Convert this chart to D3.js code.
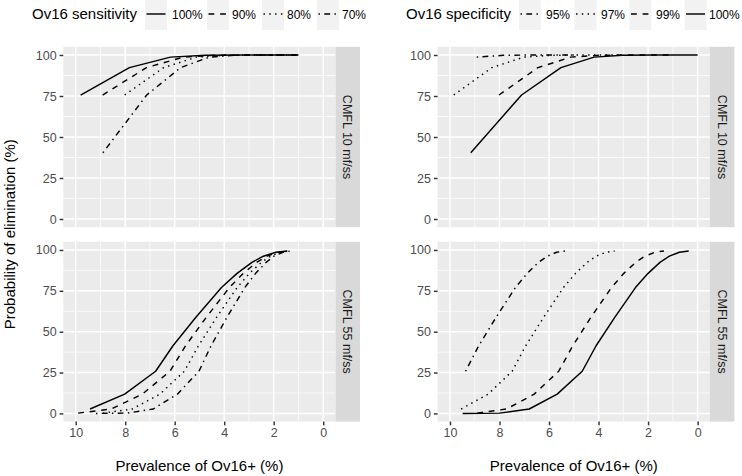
<!DOCTYPE html>
<html>
<head>
<meta charset="utf-8">
<script src="https://cdn.jsdelivr.net/npm/d3@7"></script>
<style>
  html, body { margin: 0; padding: 0; background: #ffffff; }
  svg { display: block; font-family: "Liberation Sans", Arial, Helvetica, sans-serif; }
</style>
</head>
<body>
<svg id="chart" width="742" height="476"></svg>
<script>
// ---------------- DATA ----------------
const sensLevels = ["100%", "90%", "80%", "70%"];
const specLevels = ["95%", "97%", "99%", "100%"];
const stripLabels = ["CMFL 10 mf/ss", "CMFL 55 mf/ss"];
const xTicks = [10, 8, 6, 4, 2, 0];
const yTicks = [0, 25, 50, 75, 100];

// Probability of elimination (%) — shared by each line in a row
const probTop = [40.4, 75.6, 92.3, 98.7, 99.8, 100, 100];
const probBottom = [0.0, 0.2, 2.7, 11.8, 25.8, 41.4, 58.5, 77.0, 85.7, 92.4, 96.2, 98.6, 99.4];

// Prevalence of Ov16+ (%) — null = outside the plotted range
// Top-left: sensitivity, CMFL 10
const sensTop100 = [null, 9.80, 7.83, 6.17, 4.76, 3.18, 1.00];
const sensTop90  = [null, 8.91, 7.14, 5.65, 4.38, 2.96, 1.00];
const sensTop80  = [null, 8.02, 6.45, 5.12, 4.00, 2.74, 1.00];
const sensTop70  = [8.90, 7.13, 5.76, 4.60, 3.62, 2.52, 1.00];
// Top-right: specificity, CMFL 10
const specTop95  = [null, null, null, 8.92, 7.85, 6.65, 5.00];
const specTop97  = [null, 9.85, 8.31, 7.02, 5.93, 4.69, 3.00];
const specTop99  = [null, 8.02, 6.45, 5.12, 4.00, 2.74, 1.00];
const specTop100 = [9.16, 7.11, 5.52, 4.18, 3.04, 1.76, 0.00];
// Bottom-left: sensitivity, CMFL 55
const sensBot100 = [null, null, 9.42, 8.02, 6.77, 6.07, 5.16, 4.11, 3.48, 2.88, 2.42, 1.91, 1.45];
const sensBot90  = [null, 9.90, 8.57, 7.31, 6.19, 5.56, 4.74, 3.79, 3.23, 2.69, 2.27, 1.82, 1.40];
const sensBot80  = [null, 8.90, 7.72, 6.60, 5.61, 5.04, 4.32, 3.48, 2.98, 2.50, 2.13, 1.73, 1.36];
const sensBot70  = [9.18, 7.90, 6.87, 5.89, 5.02, 4.53, 3.90, 3.17, 2.73, 2.31, 1.99, 1.63, 1.31];
// Bottom-right: specificity, CMFL 55
const specBot95  = [null, null, null, null, 9.37, 8.84, 8.15, 7.36, 6.88, 6.43, 6.07, 5.69, 5.34];
const specBot97  = [null, null, 9.55, 8.46, 7.49, 6.94, 6.23, 5.42, 4.93, 4.46, 4.10, 3.71, 3.35];
const specBot99  = [null, 8.90, 7.72, 6.60, 5.61, 5.04, 4.32, 3.48, 2.98, 2.50, 2.13, 1.73, 1.36];
const specBot100 = [9.49, 8.00, 6.80, 5.67, 4.66, 4.10, 3.36, 2.51, 2.00, 1.52, 1.14, 0.74, 0.36];

// ---------------- STYLE / LAYOUT ----------------
const LW = 1.45;
const dashes = {
  solid: null,
  dashed: `${4*LW},${4*LW}`,
  dotted: `${LW},${3*LW}`,
  dotdash: `${LW},${3*LW},${4*LW},${3*LW}`
};
const sensType = { "100%": "solid", "90%": "dashed", "80%": "dotted", "70%": "dotdash" };
const specType = { "95%": "dotdash", "97%": "dotted", "99%": "dashed", "100%": "solid" };

const colLeft = { x0: 63.3, x1: 335.6 };
const colRight = { x0: 437.6, x1: 710.0 };
const rowTop = { y0: 46.8, y1: 227.2 };
const rowBot = { y0: 241.8, y1: 421.6 };
const stripW = 24.4;

const svg = d3.select("#chart");
svg.append("rect").attr("width", 742).attr("height", 476).attr("fill", "#ffffff");

const panels = [
  { col: colLeft, row: rowTop, strip: stripLabels[0], probs: probTop, levels: sensLevels, types: sensType,
    series: { "100%": sensTop100, "90%": sensTop90, "80%": sensTop80, "70%": sensTop70 }, xaxis: false },
  { col: colRight, row: rowTop, strip: stripLabels[0], probs: probTop, levels: specLevels, types: specType,
    series: { "95%": specTop95, "97%": specTop97, "99%": specTop99, "100%": specTop100 }, xaxis: false },
  { col: colLeft, row: rowBot, strip: stripLabels[1], probs: probBottom, levels: sensLevels, types: sensType,
    series: { "100%": sensBot100, "90%": sensBot90, "80%": sensBot80, "70%": sensBot70 }, xaxis: true },
  { col: colRight, row: rowBot, strip: stripLabels[1], probs: probBottom, levels: specLevels, types: specType,
    series: { "95%": specBot95, "97%": specBot97, "99%": specBot99, "100%": specBot100 }, xaxis: true }
];

panels.forEach(p => {
  const x = d3.scaleLinear().domain([10.5, -0.5]).range([p.col.x0, p.col.x1]);
  const y = d3.scaleLinear().domain([-5, 105]).range([p.row.y1, p.row.y0]);
  const g = svg.append("g");

  // background
  g.append("rect").attr("x", p.col.x0).attr("y", p.row.y0)
    .attr("width", p.col.x1 - p.col.x0).attr("height", p.row.y1 - p.row.y0)
    .attr("fill", "#ebebeb");

  // minor grid
  [9, 7, 5, 3, 1].forEach(v => {
    g.append("line").attr("x1", x(v)).attr("x2", x(v)).attr("y1", p.row.y0).attr("y2", p.row.y1)
      .attr("stroke", "#ffffff").attr("stroke-width", LW / 2);
  });
  [12.5, 37.5, 62.5, 87.5].forEach(v => {
    g.append("line").attr("x1", p.col.x0).attr("x2", p.col.x1).attr("y1", y(v)).attr("y2", y(v))
      .attr("stroke", "#ffffff").attr("stroke-width", LW / 2);
  });
  // major grid
  xTicks.forEach(v => {
    g.append("line").attr("x1", x(v)).attr("x2", x(v)).attr("y1", p.row.y0).attr("y2", p.row.y1)
      .attr("stroke", "#ffffff").attr("stroke-width", LW);
  });
  yTicks.forEach(v => {
    g.append("line").attr("x1", p.col.x0).attr("x2", p.col.x1).attr("y1", y(v)).attr("y2", y(v))
      .attr("stroke", "#ffffff").attr("stroke-width", LW);
  });

  // y axis
  const ya = g.append("g").attr("transform", `translate(${p.col.x0},0)`)
    .call(d3.axisLeft(y).tickValues(yTicks).tickSize(3.7).tickPadding(3));
  ya.select(".domain").remove();
  ya.selectAll(".tick line").attr("stroke", "#333333").attr("stroke-width", LW);
  ya.selectAll(".tick text").attr("fill", "#4d4d4d").attr("font-size", "12.5px")
    .attr("font-family", "'Liberation Sans', Arial, sans-serif");

  // x axis
  if (p.xaxis) {
    const xa = g.append("g").attr("transform", `translate(0,${p.row.y1})`)
      .call(d3.axisBottom(x).tickValues(xTicks).tickSize(3.7).tickPadding(3).tickFormat(d3.format("d")));
    xa.select(".domain").remove();
    xa.selectAll(".tick line").attr("stroke", "#333333").attr("stroke-width", LW);
    xa.selectAll(".tick text").attr("fill", "#4d4d4d").attr("font-size", "12.5px")
      .attr("font-family", "'Liberation Sans', Arial, sans-serif");
  }

  // lines
  const line = d3.line()
    .defined(d => d.x !== null)
    .x(d => x(d.x)).y(d => y(d.y));
  p.levels.forEach(lv => {
    const pts = p.series[lv].map((v, i) => ({ x: v, y: p.probs[i] }));
    const path = g.append("path").datum(pts).attr("d", line)
      .attr("fill", "none").attr("stroke", "#000000").attr("stroke-width", LW)
      .attr("stroke-linejoin", "round");
    const da = dashes[p.types[lv]];
    if (da) path.attr("stroke-dasharray", da);
  });

  // strip
  const sx = p.col.x1;
  g.append("rect").attr("x", sx).attr("y", p.row.y0).attr("width", stripW)
    .attr("height", p.row.y1 - p.row.y0).attr("fill", "#d9d9d9");
  const cy = (p.row.y0 + p.row.y1) / 2;
  g.append("text").attr("transform", `translate(${sx + stripW / 2},${cy}) rotate(90)`)
    .attr("text-anchor", "middle").attr("dy", "0.35em")
    .attr("fill", "#1a1a1a").attr("font-size", "12.5px").text(p.strip);
});

// axis titles
[colLeft, colRight].forEach(c => {
  svg.append("text").attr("x", (c.x0 + c.x1) / 2).attr("y", 471)
    .attr("text-anchor", "middle").attr("font-size", "15px").attr("fill", "#000")
    .text("Prevalence of Ov16+ (%)");
});
svg.append("text").attr("transform", `translate(15,${(rowTop.y0 + rowBot.y1) / 2}) rotate(-90)`)
  .attr("text-anchor", "middle").attr("font-size", "15px").attr("fill", "#000")
  .text("Probability of elimination (%)");

// legends
function legend(x0, title, levels, types, keyXs, labelXs) {
  const g = svg.append("g");
  g.append("text").attr("x", x0).attr("y", 19).attr("font-size", "15px").attr("fill", "#000").text(title);
  levels.forEach((lv, i) => {
    g.append("rect").attr("x", keyXs[i]).attr("y", 0).attr("width", 22).attr("height", 30).attr("fill", "#f2f2f2");
    const l = g.append("line").attr("x1", keyXs[i] + 1.5).attr("x2", keyXs[i] + 20.5)
      .attr("y1", 14).attr("y2", 14).attr("stroke", "#000").attr("stroke-width", LW);
    const da = dashes[types[lv]];
    if (da) l.attr("stroke-dasharray", da);
    g.append("text").attr("x", labelXs[i]).attr("y", 18.5).attr("font-size", "12px").attr("fill", "#000").text(lv);
  });
}
legend(32, "Ov16 sensitivity", sensLevels, sensType, [145, 207, 262, 317], [172, 232, 287, 342]);
legend(406, "Ov16 specificity", specLevels, specType, [519, 574.5, 629.5, 684.5], [546, 601, 656, 709]);
</script>
</body>
</html>
